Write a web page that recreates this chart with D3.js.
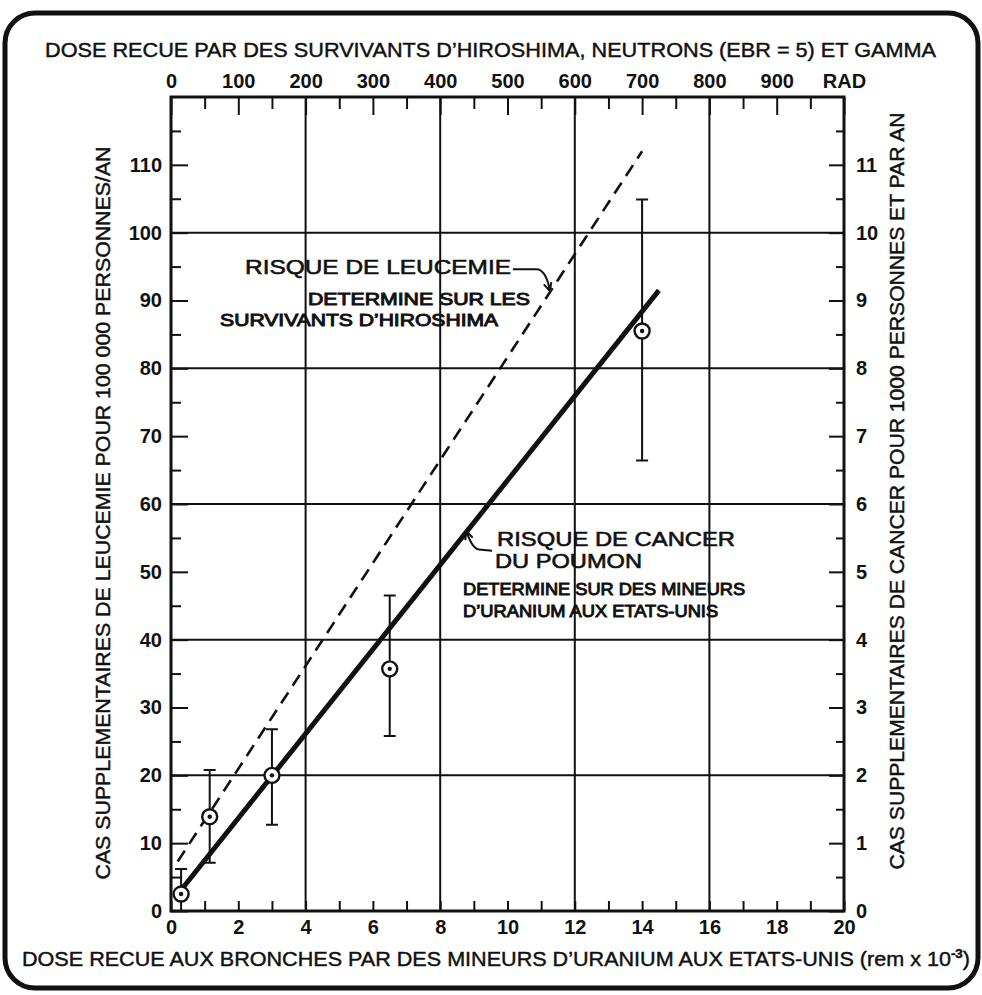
<!DOCTYPE html>
<html>
<head>
<meta charset="utf-8">
<script src="https://cdn.jsdelivr.net/npm/d3@7"></script>
<style>
  body { margin: 0; background: #fff; }
  svg text { font-family: 'Liberation Sans', Arial, sans-serif; fill: #111; }
</style>
</head>
<body>
<div id="divChart"></div>
<script>
// values (rem x 10^-3 on the bottom, rad on the top)
var doseTicks = [0, 2, 4, 6, 8, 10, 12, 14, 16, 18, 20]
var radTicks = [0, 100, 200, 300, 400, 500, 600, 700, 800, 900, 1000]
var leucTicks = [0, 10, 20, 30, 40, 50, 60, 70, 80, 90, 100, 110]
var cancerTicks = [0, 1, 2, 3, 4, 5, 6, 7, 8, 9, 10, 11]
var gridDose = [4, 8, 12, 16]
var gridLeuc = [20, 40, 60, 80, 100]

// uranium miners: measured points with their error bars
var minersDose = [0.3, 1.15, 3.0, 6.5, 14.0]
var minersRate = [2.5, 13.9, 20.0, 35.7, 85.5]
var minersLow = [0, 7.1, 12.7, 25.8, 66.4]
var minersHigh = [6.2, 20.8, 26.8, 46.5, 104.9]

// fitted lines (end points)
var cancerLineDose = [0.3, 14.5]
var cancerLineRate = [3.1, 91.5]
var leucLineDose = [0.2, 14.0]
var leucLineRate = [7.3, 112.0]

// texts
var titleTop = 'DOSE RECUE PAR DES SURVIVANTS D\u2019HIROSHIMA, NEUTRONS (EBR = 5) ET GAMMA'
var titleBottom = 'DOSE RECUE AUX BRONCHES PAR DES MINEURS D\u2019URANIUM AUX ETATS-UNIS (rem x 10'
var titleLeft = 'CAS SUPPLEMENTAIRES DE LEUCEMIE POUR 100 000 PERSONNES/AN'
var titleRight = 'CAS SUPPLEMENTAIRES DE CANCER POUR 1000 PERSONNES ET PAR AN'

// store for layout, scales etc.
var chart = {}

function initChart () {
  chart.width = 982
  chart.height = 995
  chart.left = 171
  chart.right = 844
  chart.top = 97
  chart.bottom = 911

  chart.x = d3.scaleLinear().domain([0, 20]).range([chart.left, chart.right])
  chart.xRad = d3.scaleLinear().domain([0, 1000]).range([chart.left, chart.right])
  chart.y = d3.scaleLinear().domain([0, 120]).range([chart.bottom, chart.top])
  chart.yRight = d3.scaleLinear().domain([0, 12]).range([chart.bottom, chart.top])

  chart.svg = d3
    .select('#divChart')
    .append('svg')
    .attr('width', chart.width)
    .attr('height', chart.height)
}

// outer rounded frame of the figure
function drawBorder () {
  chart.svg
    .append('rect')
    .attr('x', 5)
    .attr('y', 13)
    .attr('width', 973)
    .attr('height', 975)
    .attr('rx', 30)
    .attr('fill', 'none')
    .attr('stroke', '#111')
    .attr('stroke-width', 5)
}

function styleAxis (g) {
  g.attr('font-family', null).attr('font-size', null)
  g.select('.domain').remove()
  g.selectAll('line').attr('stroke', '#111').attr('stroke-width', 2)
  g.selectAll('text')
    .attr('font-size', 20)
    .attr('font-weight', 'bold')
    .style('font-family', "'Liberation Sans Narrow', 'Liberation Sans', Arial, sans-serif")
}

// medium weight look for the lettering
function medium (t) {
  t.attr('stroke', '#111').attr('stroke-width', 0.45)
}

function drawAxes () {
  var x = chart.x
  var y = chart.y

  // bottom: tick every unit, label every 2
  chart.svg.append('g')
    .attr('transform', 'translate(0,' + chart.bottom + ')')
    .call(d3.axisBottom(x).tickValues(d3.range(0, 21, 1)).tickSize(-10).tickPadding(9)
      .tickFormat(function (d) { return doseTicks.indexOf(d) >= 0 ? d : '' }))
    .call(styleAxis)

  // top: 50 rad short ticks, 100 rad long ticks with labels
  chart.svg.append('g')
    .attr('transform', 'translate(0,' + chart.top + ')')
    .call(d3.axisTop(chart.xRad).tickValues(d3.range(50, 1000, 100)).tickSize(-12).tickFormat(''))
    .call(styleAxis)
  chart.svg.append('g')
    .attr('transform', 'translate(0,' + chart.top + ')')
    .call(d3.axisTop(chart.xRad).tickValues(radTicks).tickSize(-18).tickPadding(9)
      .tickFormat(function (d) { return d === 1000 ? 'RAD' : d }))
    .call(styleAxis)

  // left: leukemia per 100 000
  chart.svg.append('g')
    .attr('transform', 'translate(' + chart.left + ',0)')
    .call(d3.axisLeft(y).tickValues(d3.range(5, 120, 10)).tickSize(-10).tickFormat(''))
    .call(styleAxis)
  chart.svg.append('g')
    .attr('transform', 'translate(' + chart.left + ',0)')
    .call(d3.axisLeft(y).tickValues(leucTicks).tickSize(-17).tickPadding(9))
    .call(styleAxis)

  // right: lung cancer per 1000
  chart.svg.append('g')
    .attr('transform', 'translate(' + chart.right + ',0)')
    .call(d3.axisRight(chart.yRight).tickValues(d3.range(0.5, 12, 1)).tickSize(-8).tickFormat(''))
    .call(styleAxis)
  chart.svg.append('g')
    .attr('transform', 'translate(' + chart.right + ',0)')
    .call(d3.axisRight(chart.yRight).tickValues(cancerTicks).tickSize(-15).tickPadding(12))
    .call(styleAxis)

  // grid lines
  var grid = chart.svg.append('g').attr('stroke', '#111').attr('stroke-width', 2)
  grid.selectAll('.gx')
    .data(gridDose)
    .enter()
    .append('line')
    .attr('x1', function (d) { return x(d) })
    .attr('x2', function (d) { return x(d) })
    .attr('y1', chart.top)
    .attr('y2', chart.bottom)
  grid.selectAll('.gy')
    .data(gridLeuc)
    .enter()
    .append('line')
    .attr('x1', chart.left)
    .attr('x2', chart.right)
    .attr('y1', function (d) { return y(d) })
    .attr('y2', function (d) { return y(d) })

  // plot frame
  chart.svg.append('rect')
    .attr('x', chart.left)
    .attr('y', chart.top)
    .attr('width', chart.right - chart.left)
    .attr('height', chart.bottom - chart.top)
    .attr('fill', 'none')
    .attr('stroke', '#111')
    .attr('stroke-width', 3)
}

function drawTitles () {
  var titleFont = 21
  chart.svg.append('text')
    .attr('x', 45).attr('y', 57)
    .attr('font-size', titleFont)
    .attr('textLength', 891).attr('lengthAdjust', 'spacingAndGlyphs')
    .call(medium)
    .text(titleTop)

  var bt = chart.svg.append('text')
    .attr('x', 22).attr('y', 966)
    .attr('font-size', titleFont)
    .attr('textLength', 948).attr('lengthAdjust', 'spacingAndGlyphs')
    .call(medium)
  bt.append('tspan').text(titleBottom)
  bt.append('tspan').attr('dy', -8).attr('font-size', 13).attr('font-weight', 'bold').text('-3')
  bt.append('tspan').attr('dy', 8).text(')')

  chart.svg.append('text')
    .attr('transform', 'translate(110,513) rotate(-90)')
    .attr('text-anchor', 'middle')
    .attr('font-size', titleFont)
    .attr('textLength', 733).attr('lengthAdjust', 'spacingAndGlyphs')
    .call(medium)
    .text(titleLeft)

  chart.svg.append('text')
    .attr('transform', 'translate(904,491) rotate(-90)')
    .attr('text-anchor', 'middle')
    .attr('font-size', titleFont)
    .attr('textLength', 757).attr('lengthAdjust', 'spacingAndGlyphs')
    .call(medium)
    .text(titleRight)
}

function drawSeries () {
  var x = chart.x
  var y = chart.y
  var line = d3.line()
    .x(function (d) { return x(d[0]) })
    .y(function (d) { return y(d[1]) })

  // leukemia risk, hiroshima survivors
  chart.svg.append('path')
    .datum(d3.zip(leucLineDose, leucLineRate))
    .attr('d', line)
    .attr('fill', 'none')
    .attr('stroke', '#111')
    .attr('stroke-width', 2.6)
    .attr('stroke-dasharray', '13,8')

  // lung cancer risk, uranium miners
  chart.svg.append('path')
    .datum(d3.zip(cancerLineDose, cancerLineRate))
    .attr('d', line)
    .attr('fill', 'none')
    .attr('stroke', '#111')
    .attr('stroke-width', 5)

  var pts = d3.zip(minersDose, minersRate, minersLow, minersHigh)
  var cap = 6
  var gPts = chart.svg.append('g').attr('stroke', '#111').attr('stroke-width', 2)
  gPts.selectAll('.bar')
    .data(pts)
    .enter()
    .append('path')
    .attr('fill', 'none')
    .attr('d', function (d) {
      var p = d3.path()
      var cx = x(d[0])
      p.moveTo(cx - cap, y(d[3]))
      p.lineTo(cx + cap, y(d[3]))
      p.moveTo(cx, y(d[3]))
      p.lineTo(cx, y(d[2]))
      if (d[2] > 0) {
        p.moveTo(cx - cap, y(d[2]))
        p.lineTo(cx + cap, y(d[2]))
      }
      return p.toString()
    })
  gPts.selectAll('.ring')
    .data(pts)
    .enter()
    .append('circle')
    .attr('cx', function (d) { return x(d[0]) })
    .attr('cy', function (d) { return y(d[1]) })
    .attr('r', 7.5)
    .attr('fill', '#fff')
    .attr('stroke-width', 2.4)
  gPts.selectAll('.dot')
    .data(pts)
    .enter()
    .append('circle')
    .attr('cx', function (d) { return x(d[0]) })
    .attr('cy', function (d) { return y(d[1]) })
    .attr('r', 2.2)
    .attr('fill', '#111')
    .attr('stroke', 'none')
}

// small open arrow head at (tx, ty) coming from (fx, fy)
function arrowHead (p, fx, fy, tx, ty) {
  var a = Math.atan2(ty - fy, tx - fx)
  var len = 9
  p.moveTo(tx - len * Math.cos(a - 0.45), ty - len * Math.sin(a - 0.45))
  p.lineTo(tx, ty)
  p.lineTo(tx - len * Math.cos(a + 0.45), ty - len * Math.sin(a + 0.45))
}

function drawNotes () {
  var x = chart.x
  var y = chart.y
  // annotation layout in data units
  var notes = [
    { text: 'RISQUE DE LEUCEMIE', dx: 2.2, dy: 93.9, size: 21, len: 266, w: 0.6 },
    { text: 'DETERMINE SUR LES', dx: 4.07, dy: 89.4, size: 16, len: 222, w: 0.9 },
    { text: 'SURVIVANTS D\u2019HIROSHIMA', dx: 1.46, dy: 86.2, size: 16, len: 278, w: 0.9 },
    { text: 'RISQUE DE CANCER', dx: 9.69, dy: 53.8, size: 20, len: 238, w: 0.6 },
    { text: 'DU POUMON', dx: 9.63, dy: 50.5, size: 20, len: 147, w: 0.6 },
    { text: 'DETERMINE SUR DES MINEURS', dx: 8.68, dy: 46.6, size: 16, len: 282, w: 0.9 },
    { text: 'D\u2019URANIUM AUX ETATS-UNIS', dx: 8.68, dy: 43.3, size: 16, len: 255, w: 0.9 }
  ]
  chart.svg.selectAll('.note')
    .data(notes)
    .enter()
    .append('text')
    .attr('x', function (d) { return x(d.dx) })
    .attr('y', function (d) { return y(d.dy) })
    .attr('font-size', function (d) { return d.size })
    .attr('stroke', '#111')
    .attr('stroke-width', function (d) { return d.w })
    .attr('textLength', function (d) { return d.len })
    .attr('lengthAdjust', 'spacingAndGlyphs')
    .text(function (d) { return d.text })

  // leader to the dashed line
  var p = d3.path()
  p.moveTo(x(10.16), y(94.6))
  p.lineTo(x(10.85), y(94.6))
  p.quadraticCurveTo(x(11.15), y(94.6), x(11.26), y(91.4))
  arrowHead(p, x(11.15), y(93.2), x(11.26), y(91.4))

  // leader to the solid line
  p.moveTo(x(9.54), y(53.1))
  p.lineTo(x(9.15), y(53.3))
  p.quadraticCurveTo(x(8.95), y(53.4), x(8.78), y(56.0))
  arrowHead(p, x(8.9), y(54.2), x(8.78), y(56.0))

  chart.svg.append('path')
    .attr('d', p.toString())
    .attr('fill', 'none')
    .attr('stroke', '#111')
    .attr('stroke-width', 2)
}

initChart()
drawBorder()
drawAxes()
drawTitles()
drawSeries()
drawNotes()
</script>
</body>
</html>
